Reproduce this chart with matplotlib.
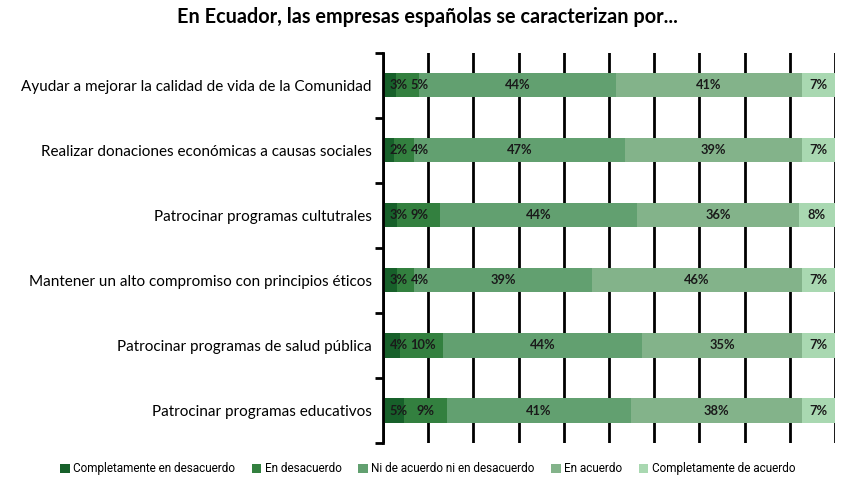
import matplotlib
matplotlib.use("Agg")
from matplotlib import pyplot as plt
from matplotlib.ticker import MultipleLocator
import numpy as np

plt.rcParams['font.family'] = ['Lato', 'DejaVu Sans']

categories = [
    "Ayudar a mejorar la calidad de vida de la Comunidad",
    "Realizar donaciones económicas a causas sociales",
    "Patrocinar programas cultutrales",
    "Mantener un alto compromiso con principios éticos",
    "Patrocinar programas de salud pública",
    "Patrocinar programas educativos",
]
series_names = [
    "Completamente en desacuerdo",
    "En desacuerdo",
    "Ni de acuerdo ni en desacuerdo",
    "En acuerdo",
    "Completamente de acuerdo",
]
# porcentajes (las etiquetas muestran el valor redondeado)
completamente_desacuerdo = [2.9, 2.4, 3.2, 3.1, 3.8, 4.7]
desacuerdo = [5.1, 4.4, 9.4, 3.8, 9.6, 9.4]
ni_ni = [43.6, 46.8, 43.6, 39.3, 44.0, 40.8]
acuerdo = [41.0, 39.0, 35.8, 46.4, 35.2, 37.8]
completamente_acuerdo = [7.4, 7.4, 8.0, 7.4, 7.4, 7.3]

colors = ['#17602a', '#33803f', '#62a070', '#83b38a', '#a9d8b1']

series = [completamente_desacuerdo, desacuerdo, ni_ni, acuerdo, completamente_acuerdo]

fig = plt.figure(figsize=(8.47, 4.80), dpi=100)
ax = fig.add_axes([0.452, 0.077, 0.534, 0.813])

y = np.arange(len(categories))
left = np.zeros(len(categories))
labels = [[] for _ in categories]
for vals, name, c in zip(series, series_names, colors):
    vals = np.array(vals, dtype=float)
    ax.barh(y, vals, left=left, height=0.37, color=c, label=name, zorder=2)
    for yi, l, v in zip(y, left, vals):
        t = ax.text(l + v / 2, yi, f"{round(v):.0f}%", ha='center', va='center',
                    fontsize=9.3, fontweight='bold', color='#1a1a1a', zorder=3)
        labels[yi].append(t)
    left += vals

ax.set_xlim(0, 100)
ax.set_ylim(len(categories) - 0.5, -0.5)
ax.xaxis.set_major_locator(MultipleLocator(10))
ax.grid(axis='x', color='black', linewidth=2, zorder=0)
ax.set_axisbelow(True)
ax.tick_params(axis='x', length=0, labelbottom=False)

ax.set_yticks(y)
ax.set_yticklabels(categories, fontsize=11)
ax.tick_params(axis='y', which='major', length=0, pad=8)
ax.set_yticks(np.arange(-0.5, len(categories), 1), minor=True)
ax.tick_params(axis='y', which='minor', length=6, width=2, color='black')

for s in ['top', 'right', 'bottom']:
    ax.spines[s].set_visible(False)
ax.spines['left'].set_linewidth(2)

# separar etiquetas de segmentos pequenos que se solapan
renderer = fig.canvas.get_renderer()
to_data = ax.transData.inverted()
for row in labels:
    prev_right = ax.transData.transform((0.8, 0))[0]
    for t in row:
        bb = t.get_window_extent(renderer)
        if bb.x0 < prev_right + 3:
            shift = prev_right + 3 - bb.x0
            x, yy = t.get_position()
            px = ax.transData.transform((x, yy))[0] + shift
            t.set_x(to_data.transform((px, 0))[0])
            bb = t.get_window_extent(renderer)
        prev_right = bb.x1

fig.suptitle("En Ecuador, las empresas españolas se caracterizan por...",
             x=0.505, y=0.985, fontsize=14.3, fontweight='bold')

fig.legend(loc='lower center', bbox_to_anchor=(0.505, -0.005), ncol=5, frameon=False,
           prop={'family': ['Roboto', 'DejaVu Sans'], 'size': 8.5},
           handlelength=0.8, handleheight=0.8, handletextpad=0.3,
           columnspacing=1.4, borderaxespad=0.2)

fig.savefig("out.png", dpi=100)
